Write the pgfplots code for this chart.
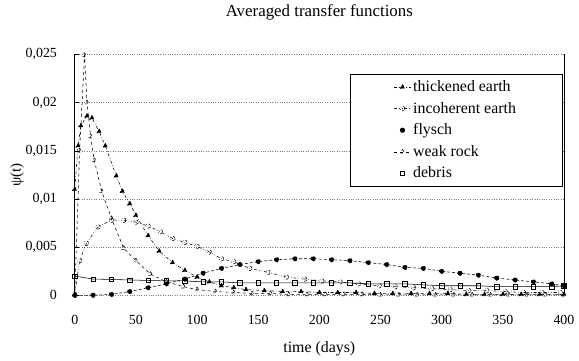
\documentclass[border=0pt]{standalone}
\usepackage{pgfplots}
\pgfplotsset{compat=1.18}
\usepackage{fontspec}
\setmainfont{Liberation Serif}
\begin{document}
\fontsize{14}{16}\selectfont
\begin{tikzpicture}
\begin{axis}[
  name=ax,
  width=491bp, height=242bp, scale only axis,
  xmin=0, xmax=400, ymin=0, ymax=0.025,
  axis x line*=bottom, axis y line*=box,
  x axis line style={draw=none},
  y axis line style={black, line width=0.6pt},
  xtick={0,50,...,400},
  ytick={0,0.005,0.01,0.015,0.02,0.025},
  ytick pos=left,
  xtick style={draw=none},
  ytick style={black, thin},
  major tick length=4bp,
  scaled y ticks=false,
  yticklabel style={xshift=-13bp, /pgf/number format/.cd, use comma, fixed, precision=3},
  xticklabel style={yshift=-15bp},
  /pgf/number format/assume math mode=true,
  ticklabel style={font=\fontsize{14}{16}\selectfont},
  ymajorgrids,
  major grid style={gray, dotted},
  xlabel={time (days)},
  ylabel={ψ(t)},
  xlabel style={font=\fontsize{16}{18}\selectfont, at={(axis description cs:0.5,-0.219)}, anchor=center},
  ylabel style={font=\fontsize{15}{17}\selectfont, at={(axis description cs:-0.118,0.5)}, anchor=center},
  title={Averaged transfer functions},
  title style={font=\fontsize{17}{19}\selectfont, at={(axis description cs:0.5,1.149)}, anchor=center},
  every axis plot/.append style={black, line width=0.55pt},
  legend style={at={(0.996,0.917)}, anchor=north east, draw=black, thin,
    font=\fontsize{16}{18}\selectfont, inner xsep=44bp, inner ysep=4bp,
    row sep=4.5bp, cells={anchor=west}},
  legend image code/.code={\draw[mark repeat=2,mark phase=2] plot coordinates {(0cm,0cm) (0.3cm,0cm) (0.6cm,0cm)};},
]
\addplot[mark=triangle*, mark size=2.6bp, dashdotted] coordinates {
(0,0.0110) (2.7,0.0155) (5,0.0176) (10,0.0186) (14,0.0184) (20,0.0170)
(25,0.0155) (34,0.0124) (39,0.0108) (45,0.0095) (50,0.0083) (60,0.0062)
(69,0.0046) (80,0.0034) (90,0.0026) (100,0.0019) (110,0.0014) (120,0.0010)
(130,0.0008) (140,0.0006) (155,0.0005) (170,0.0004) (185,0.0004) (200,0.0003)
(215,0.0003) (230,0.0003) (245,0.0002) (260,0.0002) (275,0.0002) (290,0.0002)
(305,0.0002) (320,0.0001) (335,0.0001) (350,0.0001) (365,0.0001) (380,0.0001) (400,0.0001)
};
\addlegendentry{thickened earth}
\addplot[mark=o, mark size=2.3bp, dash dot dot] coordinates {
(0,0.0001) (4,0.0036) (9.5,0.0054) (19,0.0071) (30,0.0078) (40,0.0078)
(50,0.0076) (60,0.0072) (70,0.0066) (80,0.0059) (90,0.0055) (100,0.0051)
(110,0.0045) (120,0.0038) (130,0.0035) (143,0.0028) (158,0.0024) (173,0.0019)
(188,0.0017) (202,0.0015) (217,0.0014) (232,0.0012) (249,0.0010) (262,0.0009)
(277,0.0008) (292,0.0007) (307,0.0006) (322,0.0005) (337,0.0005) (352,0.0004)
(367,0.0003) (382,0.0003) (397,0.0003)
};
\addlegendentry{incoherent earth}
\addplot[mark=*, mark size=2.3bp, densely dashed, forget plot] coordinates {
(0,0) (15,0.00002) (30,0.0001) (45,0.0004) (60,0.0008) (75,0.0012)
(90,0.0017) (105,0.0023) (120,0.0028) (135,0.0032) (150,0.0035) (165,0.0037)
(180,0.0038) (195,0.0038) (210,0.0037) (225,0.0036) (240,0.0034) (255,0.0032)
(270,0.0029) (285,0.0028) (300,0.0025) (315,0.0023) (330,0.0021) (345,0.0018)
(360,0.0016) (375,0.0014) (390,0.0012) (400,0.0010)
};
\addlegendimage{black, only marks, mark=*, mark size=2.3bp}
\addlegendentry{flysch}
\addplot[mark=triangle, mark size=2.6bp, dashed] coordinates {
(0,0) (4,0.0150) (8,0.0249) (10,0.0200) (13,0.0165) (16,0.0140) (22,0.0108)
(30,0.0080) (40,0.0049) (50,0.0036) (62,0.0022) (75,0.0014) (89,0.0009)
(100,0.0006) (115,0.0004) (130,0.0003) (145,0.0002) (160,0.0002) (175,0.0001)
(190,0.0001) (205,0.0001) (220,0.0001) (235,0.0001) (250,0.00005) (265,0.00005)
(280,0.00005) (295,0.00005) (310,0.00005) (325,0.00005) (340,0.00005)
(355,0.00005) (370,0.00005) (385,0.00005) (400,0.00005)
};
\addlegendentry{weak rock}
\addplot[mark=square, mark size=2.2bp, solid, forget plot] coordinates {
(0,0.0020) (15,0.0017) (30,0.00165) (45,0.0016) (60,0.00155) (75,0.0015)
(90,0.0015) (105,0.0014) (120,0.0014) (135,0.0013) (150,0.0013) (165,0.0013)
(180,0.0013) (195,0.0013) (210,0.0013) (225,0.0013) (240,0.0012) (255,0.0012)
(270,0.0012) (285,0.0011) (300,0.0010) (315,0.0010) (330,0.0010) (345,0.0009)
(360,0.0009) (375,0.0009) (390,0.0009) (400,0.0010)
};
\addlegendimage{black, only marks, mark=square, mark size=2.2bp}
\addlegendentry{debris}
\end{axis}
\path ([shift={(-75bp,-62bp)}]ax.south west) rectangle ([shift={(13bp,53bp)}]ax.north east);
\end{tikzpicture}
\end{document}
